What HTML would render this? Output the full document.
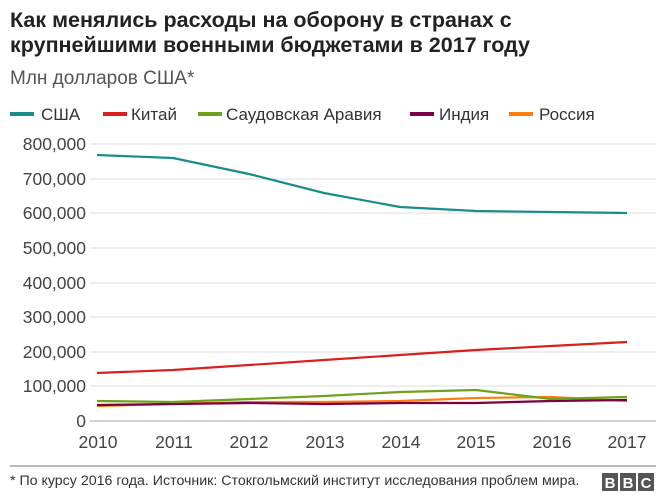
<!DOCTYPE html><html><head><meta charset="utf-8"><style>
body{margin:0;width:662px;height:497px;background:#fff;font-family:"Liberation Sans",sans-serif;overflow:hidden}
</style></head><body>
<svg width="662" height="497" xmlns="http://www.w3.org/2000/svg" font-family="Liberation Sans, sans-serif">
<text x="10" y="27" font-size="21.5" font-weight="bold" fill="#222">Как менялись расходы на оборону в странах с</text>
<text x="10" y="52" font-size="21.5" font-weight="bold" fill="#222">крупнейшими военными бюджетами в 2017 году</text>
<text x="10" y="84" font-size="19" fill="#555">Млн долларов США*</text>
<g font-size="17" fill="#333">
<rect x="10" y="112" width="24" height="4" fill="#1a8c8c"/><text x="41" y="120">США</text>
<rect x="103" y="112" width="24" height="4" fill="#d8201e"/><text x="131" y="120">Китай</text>
<rect x="198" y="112" width="24" height="4" fill="#6ea21a"/><text x="226" y="120">Саудовская Аравия</text>
<rect x="410" y="112" width="24" height="4" fill="#7b0048"/><text x="439" y="120">Индия</text>
<rect x="509" y="112" width="24" height="4" fill="#ff7f0e"/><text x="539" y="120">Россия</text>
</g>
<g stroke="#ddd" stroke-width="1">
<line x1="90" x2="656" y1="144" y2="144"/><line x1="90" x2="656" y1="179" y2="179"/><line x1="90" x2="656" y1="213" y2="213"/><line x1="90" x2="656" y1="248" y2="248"/><line x1="90" x2="656" y1="283" y2="283"/><line x1="90" x2="656" y1="317" y2="317"/><line x1="90" x2="656" y1="352" y2="352"/><line x1="90" x2="656" y1="386" y2="386"/>
</g>
<line x1="90" x2="656" y1="421" y2="421" stroke="#aaa"/>
<g font-size="17.5" fill="#444" text-anchor="end">
<text x="86" y="150">800,000</text><text x="86" y="185">700,000</text><text x="86" y="219">600,000</text><text x="86" y="254">500,000</text><text x="86" y="289">400,000</text><text x="86" y="323">300,000</text><text x="86" y="358">200,000</text><text x="86" y="392">100,000</text><text x="86" y="427">0</text>
</g>
<g font-size="17.5" fill="#444" text-anchor="middle">
<text x="98" y="448">2010</text><text x="174" y="448">2011</text><text x="249" y="448">2012</text><text x="325" y="448">2013</text><text x="401" y="448">2014</text><text x="476" y="448">2015</text><text x="552" y="448">2016</text><text x="627" y="448">2017</text>
</g>
<g fill="none" stroke-width="2.2">
<polyline stroke="#ff7f0e" points="97,406 173,404 249,402 324,402 400,401 476,398 551,397 627,401"/>
<polyline stroke="#7b0048" points="97,405 173,404 249,403 324,404 400,403 476,403 551,401 627,400"/>
<polyline stroke="#6ea21a" points="97,401 173,402 249,399 324,396 400,392 476,390 551,399 627,397"/>
<polyline stroke="#d8201e" points="97,373 173,370 249,365 324,360 400,355 476,350 551,346 627,342"/>
<polyline stroke="#1a8c8c" points="97,155 173,158 249,174 324,193 400,207 476,211 551,212 627,213"/>
</g>
<line x1="10" x2="656" y1="466" y2="466" stroke="#777"/>
<text x="10" y="485" font-size="14.2" fill="#333">* По курсу 2016 года. Источник: Стокгольмский институт исследования проблем мира.</text>
<g font-size="15" font-weight="bold" fill="#fff" text-anchor="middle">
<rect x="602" y="473" width="16" height="18" fill="#555"/><text x="610" y="488">B</text>
<rect x="620" y="473" width="16" height="18" fill="#555"/><text x="628" y="488">B</text>
<rect x="638" y="473" width="16" height="18" fill="#555"/><text x="646" y="488">C</text>
</g>
</svg>
</body></html>
